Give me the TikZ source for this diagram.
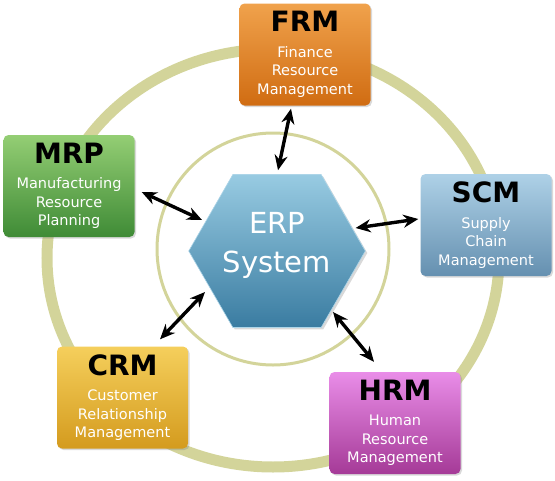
\documentclass[tikz,border=0pt]{standalone}
\usepackage{fontspec}
\setmainfont{DejaVu Sans}
\usepackage{xcolor}
\usetikzlibrary{shapes.geometric, shadows, arrows.meta, calc}

\definecolor{ringcol}{HTML}{D3D49A}
\definecolor{hextop}{HTML}{98CBE2}
\definecolor{hexbot}{HTML}{3A7CA1}
\definecolor{frmtop}{HTML}{F0A24C}
\definecolor{frmbot}{HTML}{D06C12}
\definecolor{mrptop}{HTML}{94CE74}
\definecolor{mrpbot}{HTML}{3F8B36}
\definecolor{scmtop}{HTML}{AED1E7}
\definecolor{scmbot}{HTML}{6590B0}
\definecolor{crmtop}{HTML}{F5CF5C}
\definecolor{crmbot}{HTML}{D49B1E}
\definecolor{hrmtop}{HTML}{E98DE8}
\definecolor{hrmbot}{HTML}{A53A97}

\newcommand{\modtitle}[1]{{\fontsize{28}{28}\selectfont\bfseries\color{black}#1}}

\begin{document}
\begin{tikzpicture}[x=1pt, y=-1pt,
    module/.style={rectangle, rounded corners=5pt, minimum width=131pt, minimum height=102pt,
        align=center, inner sep=2pt, text=white, font=\fontsize{14.5}{18.5}\selectfont,
        drop shadow={opacity=0.3, shadow xshift=1.5pt, shadow yshift=-1.5pt}},
    biarrow/.style={{Stealth[length=15pt,width=13pt]}-{Stealth[length=15pt,width=13pt]}, line width=3.4pt}]
    \useasboundingbox (0,0) rectangle (555,480);
    % Rings
    \draw[ringcol, line width=11pt] (273,258) ellipse [x radius=226, y radius=209];
    \draw[ringcol, line width=3pt] (273,249) circle [radius=116];
    % ERP core
    \node[regular polygon, regular polygon sides=6, minimum size=168pt, inner sep=0pt,
        top color=hextop, bottom color=hexbot, draw=hextop!80!white, line width=0.6pt,
        text=white, align=center, font=\fontsize{29}{39}\selectfont, text depth=17pt,
        drop shadow={opacity=0.3, shadow xshift=2pt, shadow yshift=-2pt}] (erp) at (277,251) {ERP\\System};
    % Modules
    \node[module, top color=frmtop, bottom color=frmbot] (frm) at (305,54.5)
        {\modtitle{FRM}\\[7pt]Finance\\Resource\\Management};
    \node[module, top color=mrptop, bottom color=mrpbot] (mrp) at (69,186)
        {\modtitle{MRP}\\[7pt]Manufacturing\\Resource\\Planning};
    \node[module, top color=scmtop, bottom color=scmbot] (scm) at (486,225)
        {\modtitle{SCM}\\[7pt]Supply\\Chain\\Management};
    \node[module, top color=crmtop, bottom color=crmbot] (crm) at (122.5,397.5)
        {\modtitle{CRM}\\[7pt]Customer\\Relationship\\Management};
    \node[module, top color=hrmtop, bottom color=hrmbot] (hrm) at (395,423)
        {\modtitle{HRM}\\[7pt]Human\\Resource\\Management};
    % Arrows
    \draw[biarrow] ($(frm.south)+(-14,3)$) -- ($(erp.north)+(1,-4)$);
    \draw[biarrow] ($(mrp.east)+(7,6)$) -- ($(erp.center)+(-75,-31)$);
    \draw[biarrow] ($(scm.west)+(-2,-6)$) -- ($(erp.east)+(-10,-23)$);
    \draw[biarrow] ($(crm.north)+(37.5,-7)$) -- ($(erp.center)+(-72,41)$);
    \draw[biarrow] ($(hrm.north)+(-21,-10)$) -- ($(erp.center)+(56,61)$);
\end{tikzpicture}
\end{document}
